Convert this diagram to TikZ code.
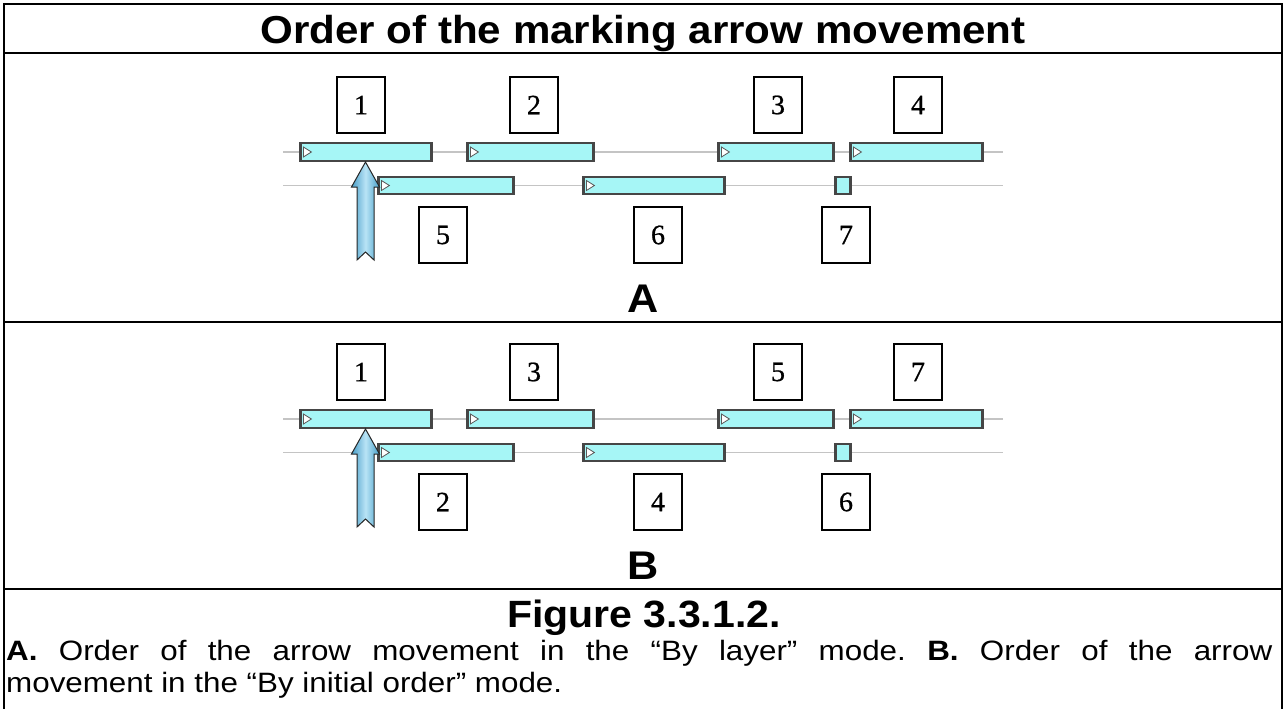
\documentclass[tikz,border=0pt]{standalone}
\usepackage{fontspec}
\setmainfont{Liberation Sans}
\newfontfamily\headfont[FakeStretch=1.08]{Liberation Sans}
\newfontfamily\capfont[FakeStretch=1.12]{Liberation Sans}
\newfontfamily\numfont[FakeBold=0.8]{Liberation Serif}
\definecolor{barcyan}{RGB}{166,246,246}
\definecolor{baredge}{RGB}{70,70,70}
\definecolor{trackgray}{RGB}{196,196,196}
\definecolor{arrowdark}{RGB}{72,158,200}
\definecolor{arrowlight}{RGB}{185,228,246}
\tikzset{
  frameline/.style={line width=2pt, black},
  track/.style={line width=1.5pt, trackgray},
  bar/.style={draw=baredge, fill=barcyan, line width=1.2pt, minimum height=18pt, inner sep=0pt},
  barend/.style={line width=2.6pt, baredge},
  tri/.style={draw=gray!70!black, fill=white, line width=0.8pt},
  numbox/.style={draw=black, line width=1.5pt, minimum width=48pt, minimum height=56pt, inner sep=0pt, font=\numfont\fontsize{28}{28}\selectfont},
  mark arrow/.style={draw=gray!30!black, line width=1pt, left color=arrowdark, right color=arrowdark, middle color=arrowlight},
  letter/.style={anchor=base, inner sep=0pt, font=\headfont\bfseries\fontsize{40}{40}\selectfont}
}
\newcommand\onebar[5]{% name, center x, center y, width, height
  \node[bar, minimum width=#4pt, minimum height=#5pt] (#1) at (#2,#3) {};
  \draw[barend] (#1.north west) -- (#1.south west);
  \draw[barend] (#1.north east) -- (#1.south east);
}
\newcommand\bartri[1]{%
  \draw[tri] ([xshift=3pt,yshift=-5pt]#1.west) -- ++(8,-5) -- ++(-8,-5) -- cycle;
}
\newcommand\panelcontent[9]{%
  \draw[track] (283,152) -- (1003,152);
  \draw[track] (283,185.5) -- (1003,185.5);
  \onebar{#1b1}{366}{152}{130}{18}\bartri{#1b1}
  \onebar{#1b2}{530.5}{152}{125}{18}\bartri{#1b2}
  \onebar{#1b3}{776}{152}{114}{18}\bartri{#1b3}
  \onebar{#1b4}{916.5}{152}{131}{18}\bartri{#1b4}
  \onebar{#1b5}{446}{185.5}{134}{17}\bartri{#1b5}
  \onebar{#1b6}{654}{185.5}{140}{17}\bartri{#1b6}
  \onebar{#1b7}{843}{185.5}{14}{17}
  \node[numbox] (#1n1) at (361,105) {#2};
  \node[numbox] (#1n2) at (534,105) {#3};
  \node[numbox] (#1n3) at (778,105) {#4};
  \node[numbox] (#1n4) at (918,105) {#5};
  \node[numbox] (#1n5) at (443,235) {#6};
  \node[numbox] (#1n6) at (658,235) {#7};
  \node[numbox] (#1n7) at (846,235) {#8};
  \coordinate (#1tip) at (365.5,162);
  \path[mark arrow] (#1tip) -- ++(14,25) -- ++(-5.5,0) -- ++(0,73) -- ++(-8.5,-8) -- ++(-8.5,8)
     -- ++(0,-73) -- ++(-5.5,0) -- cycle;
  \node[letter] (#1lab) at (643,312) {#9};
}
\begin{document}
\begin{tikzpicture}[x=1pt,y=-1pt]
\useasboundingbox (0,0) rectangle (1286,709);
\fill[white] (0,0) rectangle (1286,709);
% frame
\draw[frameline] (4,709) -- (4,4) -- (1282,4) -- (1282,709);
\draw[frameline] (4,53) -- (1282,53);
\draw[frameline] (4,322) -- (1282,322);
\draw[frameline] (4,589) -- (1282,589);
% title
\node[anchor=base, inner sep=0pt, font=\headfont\bfseries\fontsize{39}{39}\selectfont] (title) at (643,44) {Order of the marking arrow movement};
% panel A
\begin{scope}
\panelcontent{A}{1}{2}{3}{4}{5}{6}{7}{A}
\end{scope}
% panel B
\begin{scope}[shift={(0,267)}]
\panelcontent{B}{1}{3}{5}{7}{2}{4}{6}{B}
\end{scope}
% caption
\node[anchor=base, inner sep=0pt, font=\headfont\bfseries\fontsize{38}{38}\selectfont] (figtitle) at (644,627) {Figure 3.3.1.2.};
\node[anchor=base west, inner sep=0pt, font=\capfont\fontsize{28}{32}\selectfont] (cap1) at (6,660)
  {\frenchspacing\makebox[1266pt][s]{\textbf{A.} Order of the arrow movement in the “By layer” mode. \textbf{B.} Order of the arrow}};
\node[anchor=base west, inner sep=0pt, font=\capfont\fontsize{28}{32}\selectfont] (cap2) at (6,692)
  {movement in the “By initial order” mode.};
\end{tikzpicture}
\end{document}
